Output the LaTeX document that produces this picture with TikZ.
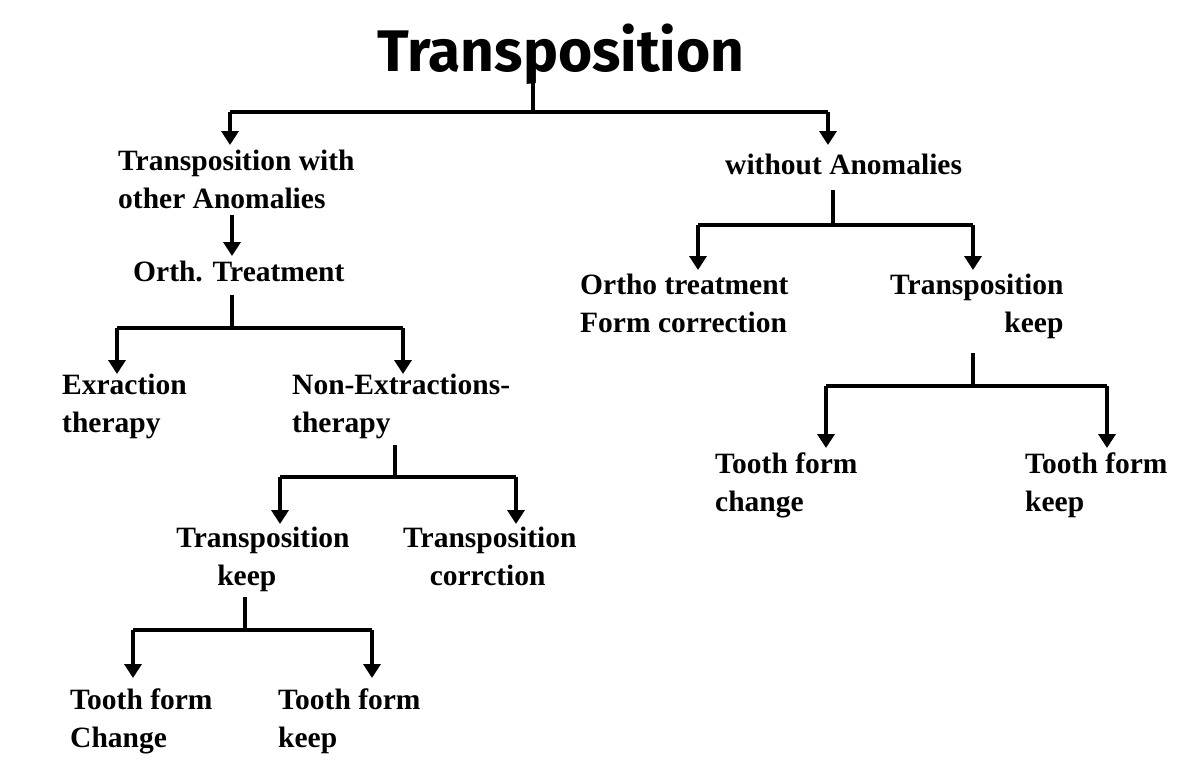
\documentclass[tikz,border=0pt]{standalone}
\usepackage{fontspec}
\setmainfont{Liberation Serif}
\newfontfamily\titlefont{Fira Sans}
\usetikzlibrary{arrows.meta}
\begin{document}
\begin{tikzpicture}[x=1pt,y=-1pt,
  lbl/.style={anchor=base west,inner sep=0pt,font=\fontsize{29.5}{38}\selectfont\bfseries,align=left},
  ln/.style={line width=4pt},
  ar/.style={line width=4pt,-{Triangle[length=14pt,width=17pt]}}]
\useasboundingbox (0,0) rectangle (1200,774);
\node[inner sep=0pt] (title) at (561,54) {\resizebox{367pt}{!}{\titlefont\bfseries Transposition}};
% level 1
\coordinate (s0) at (533,82);
\coordinate (h0) at (533,112);
\draw[ln] (s0) -- (h0);
\coordinate (l0) at (230,112); \coordinate (r0) at (828,112);
\draw[ln] (l0) -- (r0);
\node[lbl] (twa) at (118,208) {Transposition with\\other Anomalies};
\node[lbl] (woa) at (725,174) {without Anomalies};
\coordinate (a1) at (230,145); \coordinate (a2) at (828,145);
\draw[ar] (l0) -- (a1);
\draw[ar] (r0) -- (a2);
% left
\node[lbl] (ot) at (133,281) {Orth. Treatment};
\coordinate (b1) at (232,215); \coordinate (b2) at (232,256);
\draw[ar] (b1) -- (b2);
\coordinate (c1) at (232,295); \coordinate (c2) at (232,328);
\draw[ln] (c1) -- (c2);
\coordinate (c3) at (117,328); \coordinate (c4) at (403,328);
\draw[ln] (c3) -- (c4);
\coordinate (c5) at (117,374); \coordinate (c6) at (403,374);
\draw[ar] (c3) -- (c5); \draw[ar] (c4) -- (c6);
\node[lbl] (ex) at (62,432) {Exraction\\therapy};
\node[lbl] (nex) at (292,432) {Non-Extractions-\\therapy};
\coordinate (d1) at (395,445); \coordinate (d2) at (395,477);
\draw[ln] (d1) -- (d2);
\coordinate (d3) at (280,477); \coordinate (d4) at (516,477);
\draw[ln] (d3) -- (d4);
\coordinate (d5) at (280,524); \coordinate (d6) at (516,524);
\draw[ar] (d3) -- (d5); \draw[ar] (d4) -- (d6);
\node[lbl,align=center,anchor=base] (tk) at (263,585) {Transposition\\keep\hspace*{1.1em}};
\node[lbl] (tc) at (403,585) {Transposition\\\hspace*{0.9em}corrction};
\coordinate (e1) at (245,597); \coordinate (e2) at (245,630);
\draw[ln] (e1) -- (e2);
\coordinate (e3) at (133,630); \coordinate (e4) at (372,630);
\draw[ln] (e3) -- (e4);
\coordinate (e5) at (133,678); \coordinate (e6) at (372,678);
\draw[ar] (e3) -- (e5); \draw[ar] (e4) -- (e6);
\node[lbl] (tfc) at (70,747) {Tooth form\\Change};
\node[lbl] (tfk) at (278,747) {Tooth form\\keep};
% right
\coordinate (f1) at (833,190); \coordinate (f2) at (833,225);
\draw[ln] (f1) -- (f2);
\coordinate (f3) at (698,225); \coordinate (f4) at (973,225);
\draw[ln] (f3) -- (f4);
\coordinate (f5) at (698,270); \coordinate (f6) at (973,270);
\draw[ar] (f3) -- (f5); \draw[ar] (f4) -- (f6);
\node[lbl] (otf) at (580,332) {Ortho treatment\\Form correction};
\node[lbl,align=right] (tk2) at (890,332) {Transposition\\keep};
\coordinate (g1) at (973,353); \coordinate (g2) at (973,386);
\draw[ln] (g1) -- (g2);
\coordinate (g3) at (826,386); \coordinate (g4) at (1107,386);
\draw[ln] (g3) -- (g4);
\coordinate (g5) at (826,448); \coordinate (g6) at (1107,448);
\draw[ar] (g3) -- (g5); \draw[ar] (g4) -- (g6);
\node[lbl] (tfc2) at (715,511) {Tooth form\\change};
\node[lbl] (tfk2) at (1025,511) {Tooth form\\keep};
\end{tikzpicture}
\end{document}
